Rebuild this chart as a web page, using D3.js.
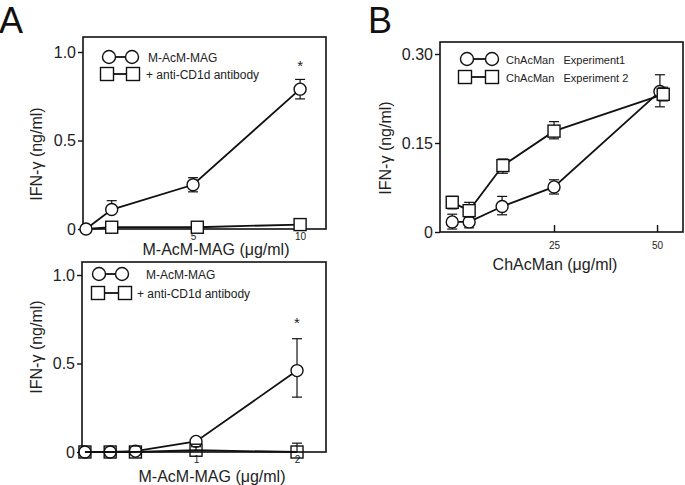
<!DOCTYPE html>
<html><head><meta charset="utf-8">
<script src="https://cdn.jsdelivr.net/npm/d3@7"></script>
<style>body{margin:0;background:#fff}svg{display:block;font-family:"Liberation Sans",Arial,sans-serif}</style>
</head><body><svg id="c" width="685" height="485"></svg>
<script>
// Panel A top
const a1CircX = [0, 1.2, 5, 10];
const a1CircY = [0, 0.11, 0.25, 0.79];
const a1CircLo = [0, 0.11, 0.21, 0.735];
const a1CircHi = [0, 0.16, 0.29, 0.845];
const a1SqX = [0, 1.2, 5.2, 10];
const a1SqY = [0, 0.01, 0.01, 0.025];
const a1XTicks = [5, 10];
const a1YTicks = [0, 0.5, 1.0];
const a1YTickLabels = ["0", "0.5", "1.0"];
// Panel A bottom
const a2CircX = [-0.1, 0.15, 0.4, 1, 2];
const a2CircY = [0, 0, 0.005, 0.06, 0.46];
const a2CircLo = [0, 0, 0.005, 0.06, 0.31];
const a2CircHi = [0, 0, 0.005, 0.06, 0.64];
const a2SqX = [-0.1, 0.15, 0.4, 1, 2];
const a2SqY = [0, 0, 0, 0.01, 0];
const a2SqLo = [0, 0, 0, 0.01, 0];
const a2SqHi = [0, 0, 0, 0.03, 0.05];
const a2XTicks = [1, 2];
const a2YTicks = [0, 0.5, 1.0];
const a2YTickLabels = ["0", "0.5", "1.0"];
// Panel B
const bCircX = [0.3, 4.4, 12.4, 25, 50.7];
const bCircY = [0.017, 0.017, 0.043, 0.076, 0.237];
const bCircLo = [0.005, 0.007, 0.029, 0.064, 0.211];
const bCircHi = [0.03, 0.027, 0.06, 0.088, 0.265];
const bSqX = [0.3, 4.4, 12.6, 25, 51.5];
const bSqY = [0.05, 0.036, 0.112, 0.17, 0.232];
const bSqLo = [0.039, 0.025, 0.099, 0.157, 0.221];
const bSqHi = [0.06, 0.05, 0.123, 0.186, 0.244];
const bXTicks = [25, 50];
const bYTicks = [0, 0.15, 0.30];
const bYTickLabels = ["0", "0.15", "0.30"];

const svg = d3.select("#c");
const R = 6, S = 12, CAP = 5;

function panel(o) {
  const g = svg.append("g");
  const x = d3.scaleLinear().domain(o.xd).range([o.left, o.right]);
  const y = d3.scaleLinear().domain(o.yd).range([o.y0, o.y1]);
  g.append("rect").attr("x", o.left).attr("y", o.top).attr("width", o.right - o.left)
    .attr("height", o.y0 - o.top).attr("fill", "none").attr("stroke", "#111").attr("stroke-width", 1.6);
  const ya = d3.axisLeft(y).tickValues(o.yTicks).tickSize(5).tickPadding(2)
    .tickFormat((d, i) => o.yLabels[i]);
  const yg = g.append("g").attr("transform", `translate(${o.left},0)`).call(ya);
  yg.select(".domain").remove();
  yg.selectAll("line").attr("stroke", "#111").attr("stroke-width", 1.4);
  yg.selectAll("text").attr("font-size", 16).attr("fill", "#222").attr("font-family", "Liberation Sans, Arial");
  const xa = d3.axisBottom(x).tickValues(o.xTicks).tickFormat(d3.format("d"))
    .tickSizeInner(o.xTickIn ? -7 : 0).tickSizeOuter(0).tickPadding(o.xTickIn ? 10 : 4);
  const xg = g.append("g").attr("transform", `translate(0,${o.y0})`).call(xa);
  xg.select(".domain").remove();
  xg.selectAll("line").attr("stroke", "#111").attr("stroke-width", 1.4);
  xg.selectAll("text").attr("font-size", 10).attr("fill", "#222").attr("font-family", "Liberation Sans, Arial");
  g.append("text").attr("x", o.xlx).attr("y", o.xly).attr("text-anchor", "middle")
    .attr("font-size", 16).attr("fill", "#222").text(o.xlabel);
  g.append("text").attr("transform", `translate(${o.ylx},${o.yly}) rotate(-90)`).attr("text-anchor", "middle")
    .attr("font-size", 16).attr("fill", "#222").text(o.ylabel);
  const line = d3.line().x(d => x(d[0])).y(d => y(d[1]));
  const drawSeries = (xs, ys, lo, hi, shape, skip) => {
    const pts = xs.map((v, i) => [v, ys[i]]);
    g.append("path").attr("d", line(pts)).attr("fill", "none").attr("stroke", "#111").attr("stroke-width", 1.8);
    if (lo) xs.forEach((v, i) => {
      if (hi[i] - lo[i] <= 0 && hi[i] === ys[i]) return;
      const cx = x(v);
      g.append("line").attr("x1", cx).attr("x2", cx).attr("y1", y(lo[i])).attr("y2", y(hi[i])).attr("stroke", "#111").attr("stroke-width", 1.2);
      [lo[i], hi[i]].forEach(e => { if (e !== ys[i]) g.append("line").attr("x1", cx - CAP).attr("x2", cx + CAP).attr("y1", y(e)).attr("y2", y(e)).attr("stroke", "#111").attr("stroke-width", 1.2); });
    });
    xs.forEach((v, i) => {
      if (skip && skip.includes(i)) return;
      if (shape === "c") g.append("circle").attr("cx", x(v)).attr("cy", y(ys[i])).attr("r", R).attr("fill", "#fff").attr("stroke", "#111").attr("stroke-width", 1.4);
      else g.append("rect").attr("x", x(v) - S / 2).attr("y", y(ys[i]) - S / 2).attr("width", S).attr("height", S)
        .attr("fill", o.sqFill).attr("stroke", "#111").attr("stroke-width", 1.4);
    });
  };
  o.draw(drawSeries, x, y, g);
  o.legend.forEach(l => {
    g.append("line").attr("x1", l.x1).attr("x2", l.x2).attr("y1", l.y).attr("y2", l.y).attr("stroke", "#111").attr("stroke-width", 1.8);
    [l.x1, l.x2].forEach(px => {
      if (l.shape === "c") g.append("circle").attr("cx", px).attr("cy", l.y).attr("r", 6.5).attr("fill", "#fff").attr("stroke", "#111").attr("stroke-width", 1.4);
      else g.append("rect").attr("x", px - 6.5).attr("y", l.y - 6.5).attr("width", 13).attr("height", 13).attr("fill", "#fff").attr("stroke", "#111").attr("stroke-width", 1.4);
    });
    g.append("text").attr("x", l.tx).attr("y", l.y + 4.5).attr("font-size", l.fs || 12).attr("fill", "#222")
      .style("white-space", "pre").text(l.text);
  });
  (o.stars || []).forEach(s => {
    g.append("text").attr("x", x(s[0])).attr("y", y(s[1])).attr("text-anchor", "middle").attr("font-size", 15).attr("fill", "#222").text("*");
  });
}

panel({
  left: 83, right: 326, top: 37, y0: 229, y1: 52, xd: [-0.14, 11.21], yd: [0, 1],
  yTicks: a1YTicks, yLabels: a1YTickLabels, xTicks: a1XTicks, xTickIn: false,
  xlabel: "M-AcM-MAG (\u03bcg/ml)", xlx: 216, xly: 255,
  ylabel: "IFN-\u03b3  (ng/ml)", ylx: 42, yly: 154, sqFill: "#fff",
  draw: (ds) => {
    ds(a1SqX, a1SqY, null, null, "s", [0]);
    ds(a1CircX, a1CircY, a1CircLo, a1CircHi, "c");
  },
  legend: [
    { x1: 109, x2: 132, y: 57, shape: "c", tx: 148, text: "M-AcM-MAG" },
    { x1: 107, x2: 133, y: 74, shape: "s", tx: 146, text: "+ anti-CD1d antibody" }
  ],
  stars: [[10, 0.895]]
});

panel({
  left: 82, right: 326, top: 262, y0: 452, y1: 275, xd: [-0.129, 2.287], yd: [0, 1],
  yTicks: a2YTicks, yLabels: a2YTickLabels, xTicks: a2XTicks, xTickIn: false,
  xlabel: "M-AcM-MAG (\u03bcg/ml)", xlx: 212, xly: 482,
  ylabel: "IFN-\u03b3  (ng/ml)", ylx: 42, yly: 347, sqFill: "none",
  draw: (ds) => {
    ds(a2CircX, a2CircY, a2CircLo, a2CircHi, "c");
    ds(a2SqX, a2SqY, a2SqLo, a2SqHi, "s");
  },
  legend: [
    { x1: 99, x2: 122, y: 274, shape: "c", tx: 146, text: "M-AcM-MAG" },
    { x1: 98, x2: 125, y: 293, shape: "s", tx: 137, text: "+ anti-CD1d antibody" }
  ],
  stars: [[2, 0.7]]
});

panel({
  left: 440, right: 683, top: 42, y0: 232, y1: 54, xd: [-2.67, 56.3], yd: [0, 0.3],
  yTicks: bYTicks, yLabels: bYTickLabels, xTicks: bXTicks, xTickIn: true,
  xlabel: "ChAcMan (\u03bcg/ml)", xlx: 555, xly: 270,
  ylabel: "IFN-\u03b3  (ng/ml)", ylx: 391, yly: 148, sqFill: "#fff",
  draw: (ds) => {
    ds(bCircX, bCircY, bCircLo, bCircHi, "c");
    ds(bSqX, bSqY, bSqLo, bSqHi, "s");
  },
  legend: [
    { x1: 467, x2: 492, y: 59, shape: "c", tx: 506, text: "ChAcMan   Experiment1", fs: 11 },
    { x1: 465, x2: 492, y: 77, shape: "s", tx: 506, text: "ChAcMan   Experiment 2", fs: 11 }
  ]
});

svg.append("text").attr("x", -1).attr("y", 33).attr("font-size", 36).attr("fill", "#111").text("A");
svg.append("text").attr("x", 368).attr("y", 33).attr("font-size", 36).attr("fill", "#111").text("B");
</script></body></html>
